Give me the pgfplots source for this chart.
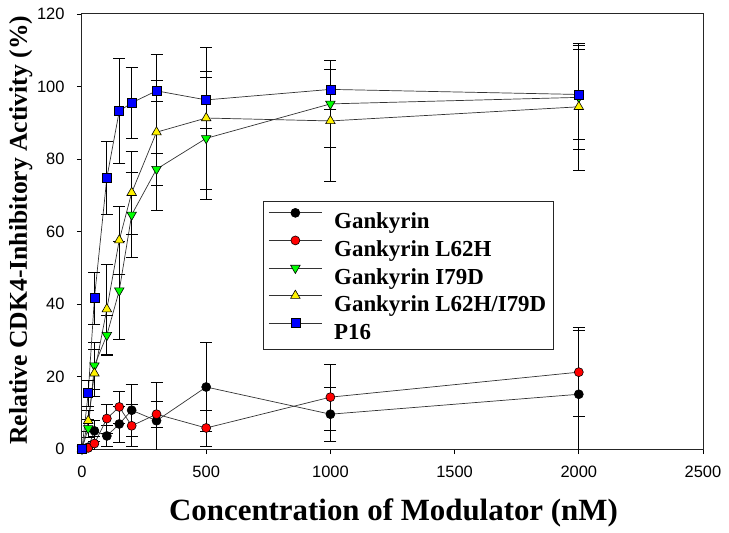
\documentclass[border=0pt]{standalone}
\usepackage{pgfplots}
\pgfplotsset{compat=1.18}
\usepackage{pgfplotstable}
\usepackage{fontspec}
\setmainfont{Liberation Serif}
\newfontfamily\arialf{Liberation Sans}

\pgfplotstableread{
x y e
0 0 0
25 0.5 0.5
50 5.0 3
100 3.6 3
150 6.9 5
200 10.7 7.2
300 7.8 10.5
500 17.1 12.3
1000 9.6 7.5
2000 15.1 17.5
}\gank
\pgfplotstableread{
x y e
0 0 0
25 0.3 0.5
50 1.5 2
100 8.4 4
150 11.6 4.4
200 6.4 5.8
300 9.6 3.5
500 5.8 5
1000 14.3 9.1
2000 21.2 12.3
}\gankL
\pgfplotstableread{
x y e
0 0 0
25 5.7 2.5
50 23.0 6.5
100 31.4 5.5
150 43.7 13.5
200 64.6 11.6
300 77.2 4.4
500 85.7 16.8
1000 95.2 12
2000 97.0 14.3
}\gankI
\pgfplotstableread{
x y e
0 0 0
25 7.8 3
50 20.9 6.5
100 38.6 12.4
150 57.6 9.3
200 70.7 11.5
300 87.4 21.5
500 91.3 19.6
1000 90.5 16.8
2000 94.4 17.4
}\gankLI
\pgfplotstableread{
x y e
0 0 0
25 15.4 3.5
50 41.6 7.1
100 74.8 10.2
150 93.2 14.5
200 95.5 9.8
300 98.8 2.8
500 96.3 7.9
1000 99.2 5.6
2000 97.8 12.5
}\pSixteen

\begin{document}
\begin{tikzpicture}
\useasboundingbox (-82bp,-84bp) rectangle (647bp,449bp);
\begin{axis}[
  width=621bp, height=435bp, scale only axis,
  xmin=0, xmax=2500, ymin=0, ymax=120,
  xtick={0,500,...,2500}, ytick={0,20,...,120},
  minor tick num=0,
  tick pos=left, tick align=outside,
  major tick length=5bp,
  tick style={black, line width=0.8bp},
  axis line style={line width=1bp, black!85},
  ticklabel style={font=\arialf\fontsize{16.5}{19}\selectfont},
  yticklabel style={xshift=-9bp},
  xticklabel style={yshift=-9bp},
  /pgf/number format/assume math mode=true,
  /pgf/number format/1000 sep={},
  xlabel={Concentration of Modulator (nM)},
  xlabel style={font=\bfseries\fontsize{31}{36}\selectfont, at={(axis description cs:0.5016,-0.1655)}, anchor=base},
  ylabel={Relative CDK4-Inhibitory Activity (\%)},
  ylabel style={font=\bfseries\fontsize{25.7}{30}\selectfont, at={(axis description cs:-0.0886,0.503)}, anchor=base},
  error bars/y dir=both, error bars/y explicit,
  error bars/error bar style={line width=0.7bp, black},
  error bars/error mark options={rotate=90, mark size=6bp, line width=0.7bp, black},
  legend style={at={(rel axis cs:0.2915,0.570)}, anchor=north west,
    draw=black!85, line width=1bp,
    font=\bfseries\fontsize{23}{27}\selectfont,
    cells={anchor=west},
    inner xsep=5bp, inner ysep=5bp,
    nodes={text height=19bp, text depth=2bp, inner ysep=3.3bp, inner xsep=2bp},
    column sep=10bp,
    row sep=0pt},
  legend image code/.code={\draw[mark repeat=2,mark phase=2,#1] plot coordinates {(0bp,7.5bp) (26.5bp,7.5bp) (53bp,7.5bp)};},
]
\addplot[black!80, line width=0.7bp, mark=*, mark size=4.5bp, mark options={fill=black, draw=black, solid, line width=0.6bp}]
  table[x=x, y=y, y error=e] {\gank};
\addlegendentry{Gankyrin}
\addplot[black!80, line width=0.7bp, mark=*, mark size=4.5bp, mark options={fill=red, draw=black, solid, line width=0.6bp}]
  table[x=x, y=y, y error=e] {\gankL};
\addlegendentry{Gankyrin L62H}
\addplot[black!80, line width=0.7bp, mark=triangle*, mark size=5.5bp, mark options={fill=green, draw=black, solid, rotate=180, line width=0.6bp}]
  table[x=x, y=y, y error=e] {\gankI};
\addlegendentry{Gankyrin I79D}
\addplot[black!80, line width=0.7bp, mark=triangle*, mark size=5.5bp, mark options={fill=yellow, draw=black, solid, line width=0.6bp}]
  table[x=x, y=y, y error=e] {\gankLI};
\addlegendentry{Gankyrin L62H/I79D}
\addplot[black!80, line width=0.7bp, mark=square*, mark size=4.5bp, mark options={fill=blue, draw=black, solid, line width=0.6bp}]
  table[x=x, y=y, y error=e] {\pSixteen};
\addlegendentry{P16}
\end{axis}
\end{tikzpicture}
\end{document}
